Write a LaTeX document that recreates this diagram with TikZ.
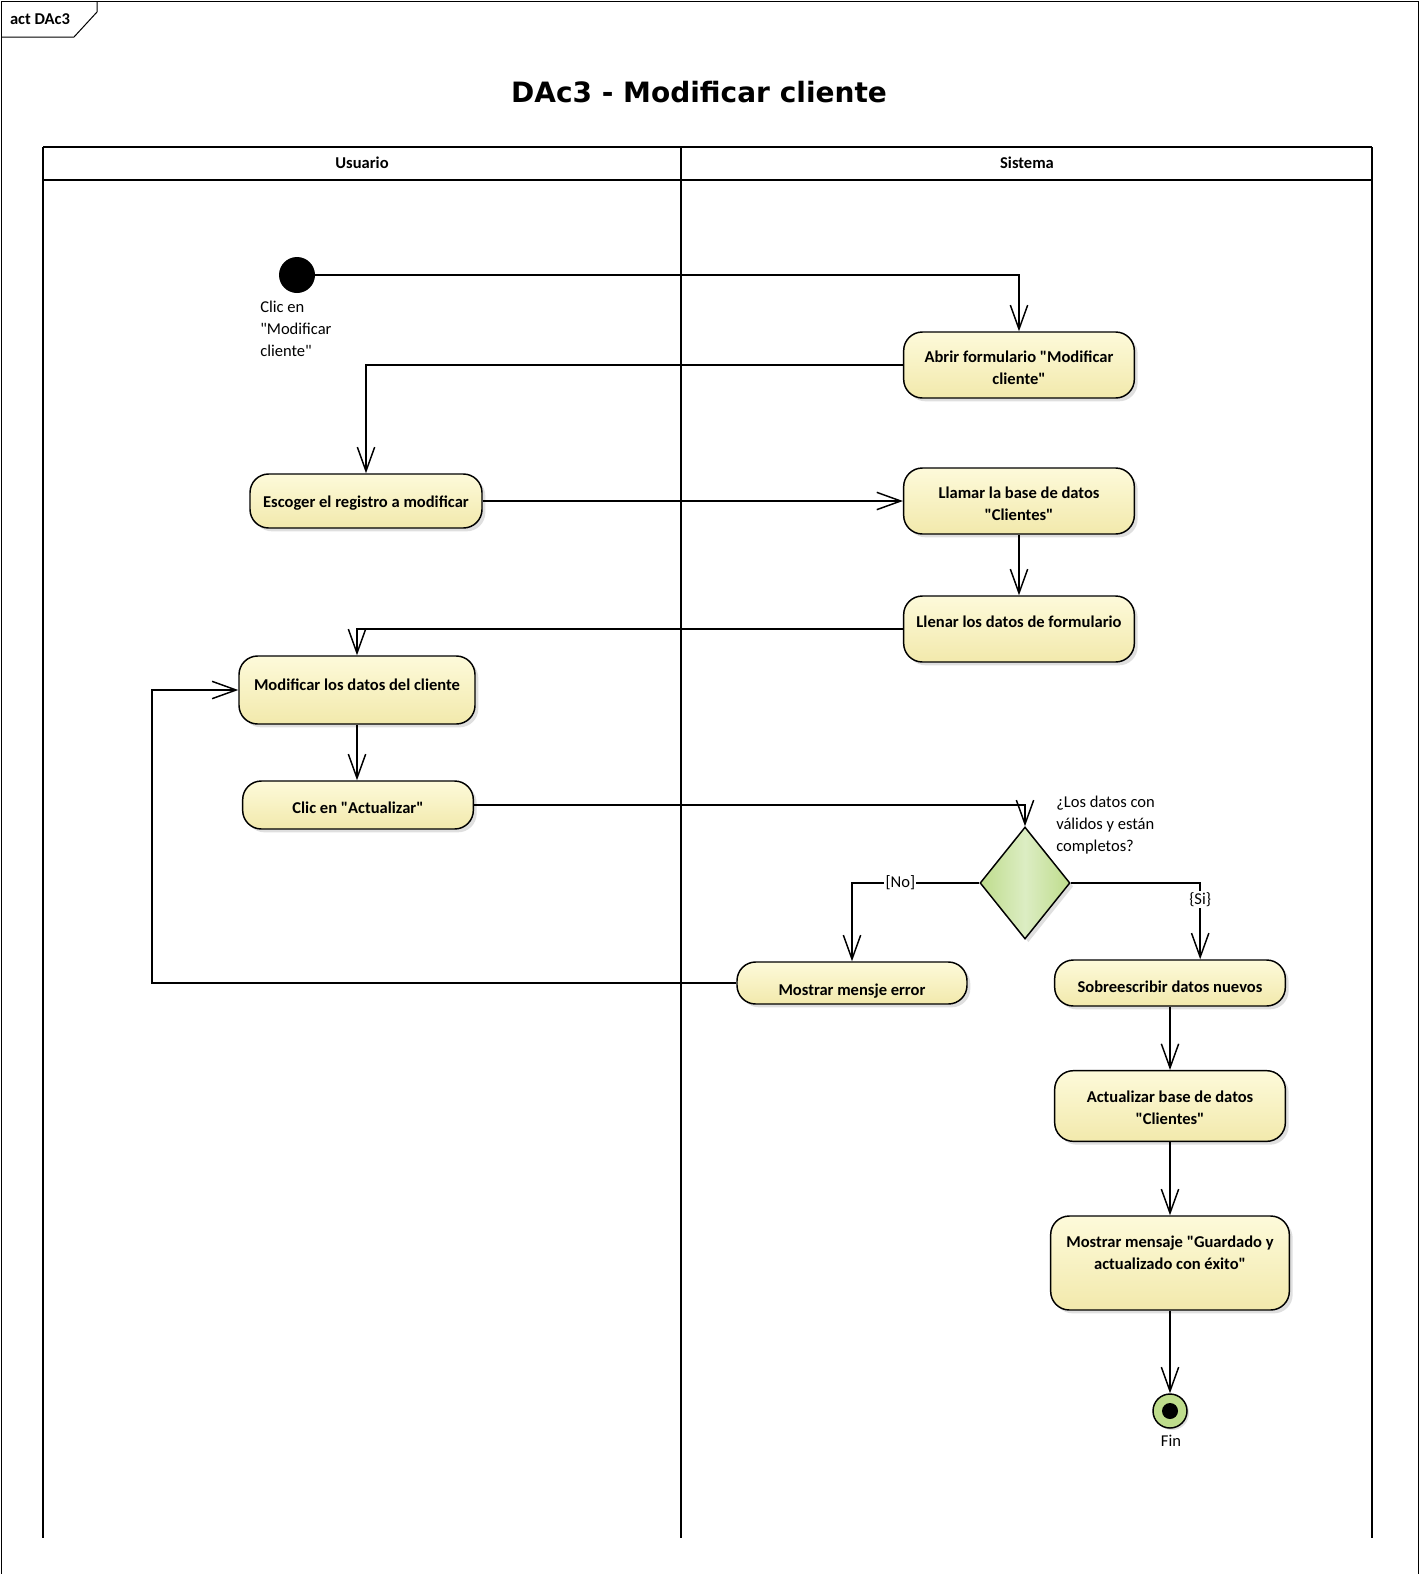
\documentclass[tikz,border=0pt]{standalone}
\usepackage{fontspec}
\setmainfont{Carlito}[Ligatures=TeXOff]
\newfontfamily\titlefont{DejaVu Sans}
\usetikzlibrary{positioning}
\usetikzlibrary{arrows.meta}
\usetikzlibrary{shapes.geometric,shadows,calc}

\definecolor{actTop}{RGB}{253,250,218}
\definecolor{actBot}{RGB}{242,233,172}
\definecolor{decFill}{RGB}{190,220,140}
\definecolor{decLight}{RGB}{220,237,195}

% move the ink of a node text up (or down) without changing its box
\newcommand\lift[2]{\raisebox{#1}[\height][\depth]{#2}}

\tikzset{
  action/.style={draw, line width=1.1pt, rounded corners=14pt, top color=actTop, bottom color=actBot,
    drop shadow={shadow xshift=2.5pt, shadow yshift=-2.5pt, fill=black!25},
    font=\fontsize{12.4}{16.5}\selectfont\bfseries, align=center, inner sep=2pt},
  flow/.style={line width=1.1pt, -{Straight Barb[length=18pt,width=13pt,line width=1.1pt]}},
  lane/.style={line width=1.6pt},
  note/.style={font=\fontsize{12.4}{16.5}\selectfont, align=left, inner sep=0pt}
}

\begin{document}
\begin{tikzpicture}[x=0.75pt,y=0.75pt,yscale=-1,xscale=1]
\useasboundingbox (0,0) rectangle (1419,1574);

% Frame
\draw [line width=0.75pt] (1,1574) -- (1,1) -- (1418,1) -- (1418,1574) ;
\draw [line width=0.75pt] (1,37) -- (74,37) -- (97,12) -- (97,1) ;
\node (tag) at (40,19) {\fontsize{12.4}{15}\selectfont\bfseries act DAc3};
% Title
\node (title) at (699,92) {\titlefont\bfseries\fontsize{21}{25}\selectfont DAc3 - Modificar cliente};

% Swimlanes
\draw [lane] (43,147) -- (1372,147) ;
\draw [lane] (43,180) -- (1372,180) ;
\draw [lane] (43,147) -- (43,1538) ;
\draw [lane] (681,147) -- (681,1538) ;
\draw [lane] (1372,147) -- (1372,1538) ;
\node (usuario) at (362,163) {\fontsize{12.4}{15}\selectfont\bfseries Usuario};
\node (sistema) at (1027,163) {\fontsize{12.4}{15}\selectfont\bfseries Sistema};

% Initial
\node [circle, fill=black, minimum size=27pt, inner sep=0pt] (ini) at (297,275) {};
\node [note, anchor=north west] (iniLbl) at (260,301) {Clic en\\"Modificar\\cliente"};

% Actions
\node [action, minimum width=173pt, minimum height=49.5pt] (A1) at (1019,365) {\lift{-3pt}{\begin{tabular}{@{}c@{}}Abrir formulario "Modificar\\cliente"\end{tabular}}};
\node [action, minimum width=174pt, minimum height=40.5pt] (A2) at (366,501) {\lift{-1.5pt}{Escoger el registro a modificar}};
\node [action, minimum width=173pt, minimum height=49.5pt] (A3) at (1019,501) {\lift{-3.4pt}{\begin{tabular}{@{}c@{}}Llamar la base de datos\\"Clientes"\end{tabular}}};
\node [action, minimum width=173pt, minimum height=49.5pt] (A4) at (1019,629) {\lift{5.25pt}{Llenar los datos de formulario}};
\node [action, minimum width=177pt, minimum height=51pt] (A5) at (357,690) {\lift{3.75pt}{Modificar los datos del cliente}};
\node [action, minimum width=173pt, minimum height=36pt] (A6) at (358,805) {\lift{-2.25pt}{Clic en "Actualizar"}};
\node [action, minimum width=172.5pt, minimum height=31.5pt] (A7) at (852,983) {\lift{-6pt}{Mostrar mensje error}};
\node [action, minimum width=173pt, minimum height=34.5pt] (A8) at (1170,983) {\lift{-3pt}{Sobreescribir datos nuevos}};
\node [action, minimum width=173pt, minimum height=53pt] (A9) at (1170,1106) {\lift{-2.25pt}{\begin{tabular}{@{}c@{}}Actualizar base de datos\\"Clientes"\end{tabular}}};
\node [action, minimum width=179pt, minimum height=70.5pt] (A10) at (1170,1263) {\lift{6.4pt}{\begin{tabular}{@{}c@{}}Mostrar mensaje "Guardado y\\actualizado con éxito"\end{tabular}}};

% Decision
\node [diamond, draw, line width=1.1pt, aspect=0.8, minimum width=67.5pt, minimum height=84pt, inner sep=0pt,
  left color=decFill, right color=decFill, middle color=decLight,
  drop shadow={shadow xshift=2.5pt, shadow yshift=-2.5pt, fill=black!25}] (dec) at (1025,883) {};
\node [note, anchor=north west] (decLbl) at (1056,796) {¿Los datos con\\válidos y están\\completos?};

% Final
\node [circle, draw, line width=1.1pt, fill=decFill, minimum size=25.5pt, inner sep=0pt,
  drop shadow={shadow xshift=1.5pt, shadow yshift=-1.5pt, fill=black!25}] (fin) at (1170,1411) {};
\fill (fin.center) circle [radius=6pt];
\node (finLbl) at (1171,1441) {\fontsize{12.4}{15}\selectfont Fin};

% Connections
\coordinate (siIn) at ($(A8.north west)!0.63!(A8.north east)$);
\coordinate (back) at (152,690);
\draw [flow] (ini.east) -| (A1.north) ;
\draw [flow] (A1.west) -| (A2.north) ;
\draw [flow] (A2.east) -- (A3.west) ;
\draw [flow] (A3.south) -- (A4.north) ;
\draw [flow] (A4.west) -| (A5.north) ;
\draw [flow] (A5.south) -- (A5.south |- A6.north) ;
\draw [flow] (A6.east) -| (dec.north) ;
\draw [flow] (dec.west) -| node [pos=0.31, fill=white, inner sep=1pt, font=\fontsize{12.4}{15}\selectfont] {[No]} (A7.north) ;
\draw [flow] (dec.east) -| node [pos=0.61, fill=white, inner sep=1pt, font=\fontsize{12.4}{15}\selectfont] {\{Si\}} (siIn) ;
\draw [flow] (A7.west) -| (back) -- (A5.west) ;
\draw [flow] (A8.south) -- (A9.north) ;
\draw [flow] (A9.south) -- (A10.north) ;
\draw [flow] (A10.south) -- (fin.north) ;

\end{tikzpicture}
\end{document}
